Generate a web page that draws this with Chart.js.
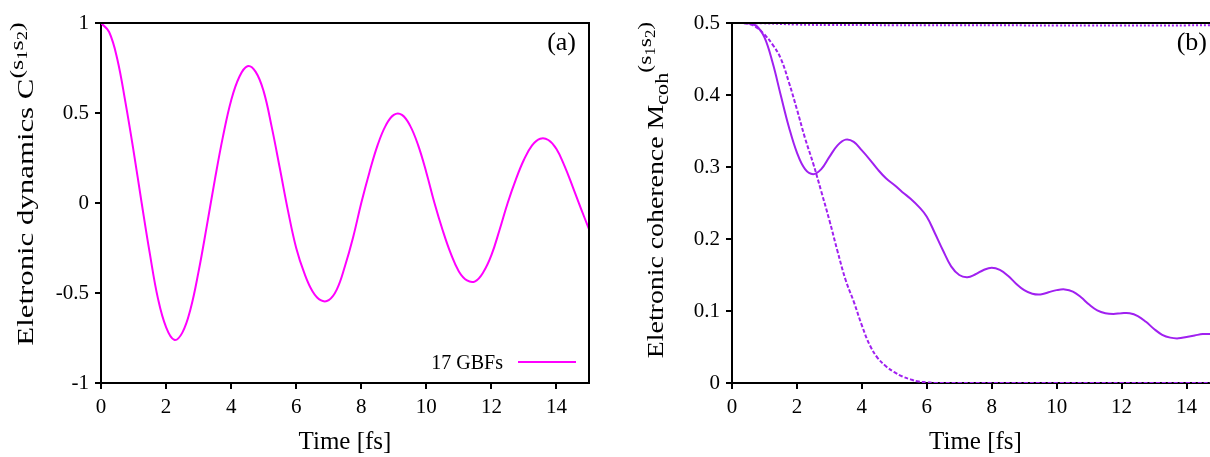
<!DOCTYPE html>
<html lang="en">
<head>
<meta charset="UTF-8">
<title>Electronic dynamics and coherence</title>
<script src="https://cdn.jsdelivr.net/npm/chart.js"></script>
<style>
    html, body {
        margin: 0;
        padding: 0;
        width: 1210px;
        height: 457px;
        overflow: hidden;
        background: #fff;
    }
    .panel {
        position: absolute;
        top: 0;
        height: 457px;
    }
    #panelA { left: 0; width: 605px; }
    #panelB { left: 600px; width: 640px; }
</style>
</head>
<body>
<div class="panel" id="panelA"><canvas id="chartA"></canvas></div>
<div class="panel" id="panelB"><canvas id="chartB"></canvas></div>

<script>
// ---- data (every 0.25 fs) ----
const xTicks = [0, 2, 4, 6, 8, 10, 12, 14];
const yTicksA = [-1, -0.5, 0, 0.5, 1];
const yTicksB = [0, 0.1, 0.2, 0.3, 0.4, 0.5];

// (a) electronic dynamics, 17 GBFs
const timeA = [0, 0.25, 0.5, 0.75, 1.0, 1.25, 1.5, 1.75, 2.0, 2.25, 2.5, 2.75, 3.0, 3.25, 3.5, 3.75, 4.0, 4.25, 4.5,
    4.75, 5.0, 5.25, 5.5, 5.75, 6.0, 6.25, 6.5, 6.75, 7.0, 7.25, 7.5, 7.75, 8.0, 8.25, 8.5, 8.75, 9.0, 9.25, 9.5,
    9.75, 10.0, 10.25, 10.5, 10.75, 11.0, 11.25, 11.5, 11.75, 12.0, 12.25, 12.5, 12.75, 13.0, 13.25, 13.5, 13.75,
    14.0, 14.25, 14.5, 14.75, 15.0];
const dynA = [1.0, 0.95, 0.8, 0.56, 0.29, 0.0, -0.28, -0.53, -0.69, -0.76, -0.72, -0.59, -0.38, -0.13, 0.13, 0.37,
    0.57, 0.70, 0.76, 0.73, 0.62, 0.42, 0.19, -0.045, -0.25, -0.39, -0.49, -0.54, -0.54, -0.48, -0.35, -0.19, 0.0,
    0.17, 0.32, 0.43, 0.49, 0.49, 0.43, 0.32, 0.17, 0.0, -0.15, -0.28, -0.38, -0.43, -0.435, -0.385, -0.29, -0.15,
    0.0, 0.13, 0.24, 0.32, 0.357, 0.35, 0.30, 0.205, 0.09, -0.03, -0.145];

// (b) electronic coherence
const timeSolid = timeA;
const cohSolid = [0.5, 0.5, 0.4995, 0.496, 0.48, 0.445, 0.40, 0.356, 0.32, 0.297, 0.29, 0.297, 0.314, 0.33, 0.338,
    0.335, 0.323, 0.31, 0.296, 0.284, 0.275, 0.265, 0.256, 0.245, 0.231, 0.208, 0.184, 0.162, 0.15, 0.147, 0.151,
    0.157, 0.16, 0.157, 0.149, 0.138, 0.129, 0.124, 0.123, 0.126, 0.129, 0.13, 0.127, 0.119, 0.109, 0.101, 0.097,
    0.096, 0.097, 0.097, 0.093, 0.085, 0.075, 0.067, 0.063, 0.062, 0.064, 0.066, 0.068, 0.068, 0.069];

const timeDashed = [0, 0.25, 0.5, 0.75, 1.0, 1.25, 1.5, 1.75, 2.0, 2.25, 2.5, 2.75, 3.0, 3.25, 3.5, 3.75, 4.0, 4.25,
    4.5, 4.75, 5.0, 5.25, 5.5, 5.75, 6.0, 6.25, 7, 8, 9, 10, 11, 12, 13, 14, 15];
const cohDashed = [0.5, 0.5, 0.499, 0.494, 0.484, 0.47, 0.451, 0.418, 0.38, 0.34, 0.305, 0.266, 0.226, 0.183, 0.143,
    0.113, 0.08, 0.052, 0.034, 0.023, 0.015, 0.009, 0.005, 0.002, 0.001, 0, 0, 0, 0, 0, 0, 0, 0, 0, 0];

const timeDotted = [0, 1, 2, 3, 4, 5, 6, 7, 8, 9, 10, 11, 12, 13, 14, 15];
const cohDotted = [0.5, 0.4995, 0.4978, 0.4972, 0.4971, 0.497, 0.497, 0.4969, 0.4968, 0.4967, 0.4966, 0.4965, 0.4965,
    0.4965, 0.4967, 0.4968];

const MAGENTA = '#ff00ff';
const VIOLET = '#a020f0';
const SERIF = '"Liberation Serif", "DejaVu Serif", serif';

function pts(xs, ys) {
    return xs.map((x, i) => ({ x: x, y: ys[i] }));
}

// draws rotated text built from pieces (size factor, baseline shift)
function drawRotated(ctx, parts, cx, cy, base, stretch) {
    ctx.save();
    ctx.translate(cx, cy);
    ctx.rotate(-Math.PI / 2);
    ctx.scale(stretch, 1);
    ctx.textAlign = 'left';
    ctx.textBaseline = 'alphabetic';
    ctx.fillStyle = '#000';
    let total = 0;
    parts.forEach(p => {
        ctx.font = (base * p.s) + 'px ' + SERIF;
        p.w = ctx.measureText(p.t).width;
        total += p.w;
    });
    let x = -total / 2;
    parts.forEach(p => {
        ctx.font = (base * p.s) + 'px ' + SERIF;
        ctx.fillText(p.t, x, p.dy);
        x += p.w;
    });
    ctx.restore();
}

function axisOpts(min, max, ticks, fixed) {
    return {
        type: 'linear',
        min: min,
        max: max,
        afterBuildTicks: axis => { axis.ticks = ticks.map(v => ({ value: v })); },
        afterFit: fixed,
        ticks: {
            color: '#000', font: { family: SERIF, size: 21 }, padding: 6, maxRotation: 0, autoSkip: false,
            callback: v => String(v)
        },
        grid: { drawOnChartArea: false, drawTicks: true, tickLength: 6, color: '#000', lineWidth: 2 },
        border: { display: true, color: '#000', width: 2 }
    };
}

const framePlugin = {
    id: 'frame',
    afterDraw(chart, args, opts) {
        const ctx = chart.ctx;
        const a = chart.chartArea;
        ctx.save();
        ctx.strokeStyle = '#000';
        ctx.lineWidth = 2;
        ctx.beginPath();
        ctx.moveTo(a.left, a.top);
        ctx.lineTo(a.right, a.top);
        ctx.lineTo(a.right, a.bottom);
        ctx.stroke();

        ctx.fillStyle = '#000';
        ctx.font = '25px ' + SERIF;
        ctx.textAlign = 'center';
        ctx.textBaseline = 'alphabetic';
        ctx.fillText('Time [fs]', (a.left + a.right) / 2, 449);

        ctx.textAlign = 'right';
        ctx.font = '26px ' + SERIF;
        ctx.fillText(opts.tag, opts.tagX, 50);

        if (opts.legend) {
            ctx.font = '20px ' + SERIF;
            ctx.fillText(opts.legend, a.right - 86, 369);
            ctx.strokeStyle = MAGENTA;
            ctx.beginPath();
            ctx.moveTo(a.right - 71, 362);
            ctx.lineTo(a.right - 13, 362);
            ctx.stroke();
        }
        drawRotated(ctx, opts.ylabel, opts.ylabelX, opts.ylabelY, 23, opts.stretch);
        ctx.restore();
    }
};

Chart.defaults.animation = false;
Chart.defaults.responsive = true;
Chart.defaults.maintainAspectRatio = false;

new Chart(document.getElementById('chartA'), {
    type: 'line',
    data: {
        datasets: [{
            label: '17 GBFs',
            data: pts(timeA, dynA),
            borderColor: MAGENTA,
            borderWidth: 2,
            pointRadius: 0,
            tension: 0.4
        }]
    },
    options: {
        layout: { padding: { left: 0, top: 23, right: 16, bottom: 0 } },
        plugins: {
            legend: { display: false },
            tooltip: { enabled: false },
            frame: {
                tag: '(a)', tagX: 576, legend: '17 GBFs',
                ylabelX: 33, ylabelY: 184, stretch: 1.34,
                ylabel: [
                    { t: 'Eletronic dynamics C', s: 1, dy: 0 },
                    { t: '(s', s: 0.85, dy: -10 },
                    { t: '1', s: 0.6, dy: -6 },
                    { t: 's', s: 0.85, dy: -10 },
                    { t: '2', s: 0.6, dy: -6 },
                    { t: ')', s: 0.85, dy: -10 }
                ]
            }
        },
        scales: {
            x: axisOpts(0, 15, xTicks, s => { s.height = 74; }),
            y: axisOpts(-1, 1, yTicksA, s => { s.width = 101; })
        }
    },
    plugins: [framePlugin]
});

new Chart(document.getElementById('chartB'), {
    type: 'line',
    data: {
        datasets: [
            {
                data: pts(timeDotted, cohDotted),
                borderColor: VIOLET, borderWidth: 2, borderDash: [2, 2],
                pointRadius: 0, tension: 0.4
            },
            {
                data: pts(timeDashed, cohDashed),
                borderColor: VIOLET, borderWidth: 2, borderDash: [4, 2],
                pointRadius: 0, tension: 0.4
            },
            {
                data: pts(timeSolid, cohSolid),
                borderColor: VIOLET, borderWidth: 2,
                pointRadius: 0, tension: 0.4
            }
        ]
    },
    options: {
        layout: { padding: { left: 0, top: 23, right: 21, bottom: 0 } },
        plugins: {
            legend: { display: false },
            tooltip: { enabled: false },
            frame: {
                tag: '(b)', tagX: 607, legend: null,
                ylabelX: 63, ylabelY: 190, stretch: 1.21,
                ylabel: [
                    { t: 'Eletronic coherence M', s: 1, dy: 0 },
                    { t: 'coh', s: 0.8, dy: 5 },
                    { t: '(s', s: 0.85, dy: -12 },
                    { t: '1', s: 0.6, dy: -8 },
                    { t: 's', s: 0.85, dy: -12 },
                    { t: '2', s: 0.6, dy: -8 },
                    { t: ')', s: 0.85, dy: -12 }
                ]
            }
        },
        scales: {
            x: axisOpts(0, 15, xTicks, s => { s.height = 74; }),
            y: axisOpts(0, 0.5, yTicksB, s => { s.width = 132; })
        }
    },
    plugins: [framePlugin]
});
</script>
</body>
</html>
